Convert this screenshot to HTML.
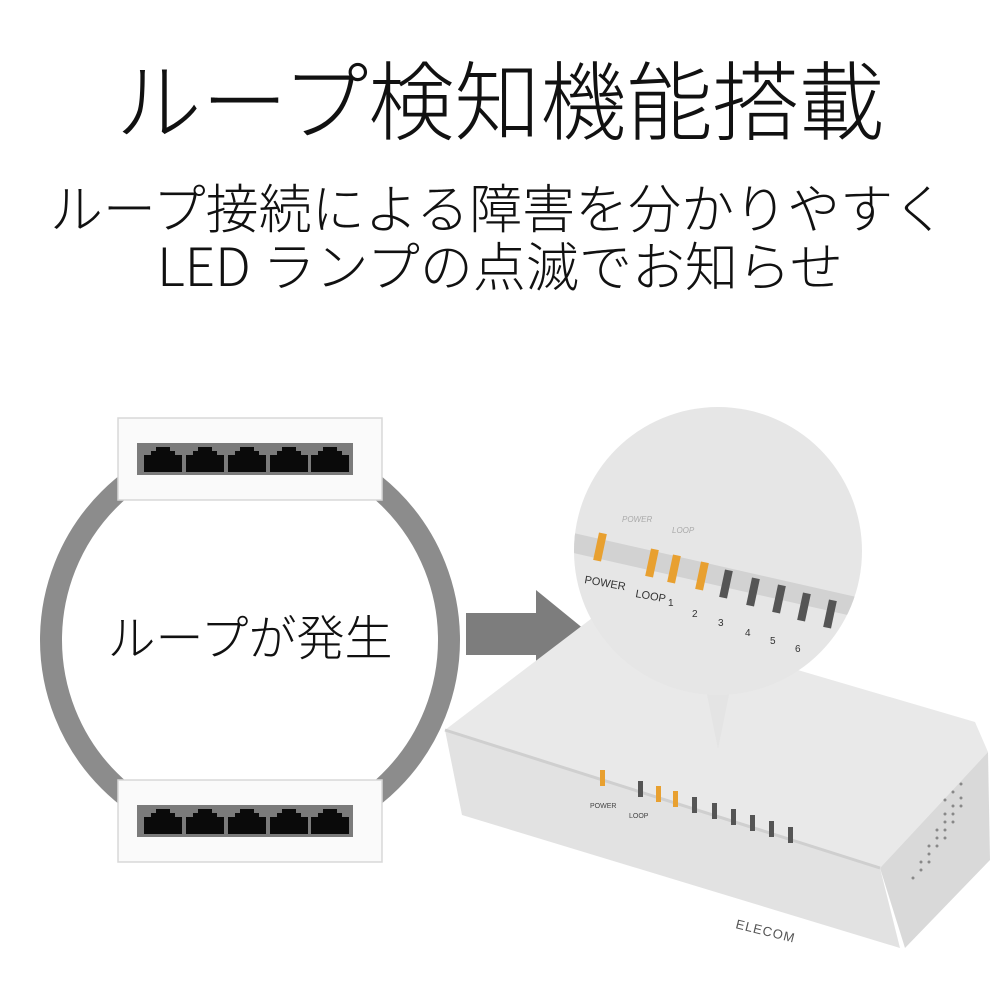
<!DOCTYPE html>
<html><head><meta charset="utf-8"><style>
html,body{margin:0;padding:0;background:#fff;}
svg{display:block;}
text{font-family:"Liberation Sans","Noto Sans CJK JP",sans-serif;}
</style></head><body>
<svg width="1000" height="1000" viewBox="0 0 1000 1000" xmlns="http://www.w3.org/2000/svg">
<rect width="1000" height="1000" fill="#fff"/>
<text x="500" y="133" font-size="86" font-weight="300" text-anchor="middle" fill="#111" style="font-family:'Noto Sans CJK JP',sans-serif">ループ検知機能搭載</text>
<text x="498" y="228" font-size="53" font-weight="300" text-anchor="middle" fill="#111" style="font-family:'Noto Sans CJK JP',sans-serif">ループ接続による障害を分かりやすく</text>
<text x="500" y="286" font-size="53" font-weight="300" text-anchor="middle" fill="#111" style="font-family:'Noto Sans CJK JP',sans-serif">LED ランプの点滅でお知らせ</text>

<!-- ring -->
<circle cx="250" cy="640" r="199" fill="none" stroke="#8c8c8c" stroke-width="22"/>
<text x="250" y="655" font-size="48" font-weight="300" text-anchor="middle" fill="#111" style="font-family:'Noto Sans CJK JP',sans-serif">ループが発生</text>

<!-- switch boxes -->
<g id="box">
<rect x="118" y="418" width="264" height="82" fill="#fafafa" stroke="#d8d8d8" stroke-width="1.5"/>
<rect x="137" y="443" width="216" height="32" fill="#7b7b7b"/>
<g fill="#0a0a0a">
<path d="M144 472 V455 H151 V451 H156 V447 H170 V451 H175 V455 H182 V472 Z"/>
<path d="M186 472 V455 H193 V451 H198 V447 H212 V451 H217 V455 H224 V472 Z"/>
<path d="M228 472 V455 H235 V451 H240 V447 H254 V451 H259 V455 H266 V472 Z"/>
<path d="M270 472 V455 H277 V451 H282 V447 H296 V451 H301 V455 H308 V472 Z"/>
<path d="M311 472 V455 H318 V451 H323 V447 H337 V451 H342 V455 H349 V472 Z"/>
</g>
</g>
<use href="#box" transform="translate(0,362)"/>

<!-- arrow -->
<polygon points="466,613 536,613 536,590 590,634 536,677 536,655 466,655" fill="#7d7d7d"/>

<!-- switch body -->
<polygon points="445,730 600,612 975,722 988,752 880,868" fill="#e9e9e9"/>
<polygon points="445,730 880,868 900,948 462,815" fill="#e2e2e2"/>
<polygon points="880,868 988,752 990,860 905,948" fill="#d9d9d9"/>
<polyline points="445,730 880,868" fill="none" stroke="#cfcfcf" stroke-width="3"/>
<g fill="#888">
<g transform="translate(945,800)">
<circle cx="0" cy="0" r="1.5"/><circle cx="8" cy="-8" r="1.5"/><circle cx="16" cy="-16" r="1.5"/>
<circle cx="0" cy="14" r="1.5"/><circle cx="8" cy="6" r="1.5"/><circle cx="16" cy="-2" r="1.5"/>
<circle cx="-8" cy="30" r="1.5"/><circle cx="0" cy="22" r="1.5"/><circle cx="8" cy="14" r="1.5"/><circle cx="16" cy="6" r="1.5"/>
<circle cx="-16" cy="46" r="1.5"/><circle cx="-8" cy="38" r="1.5"/><circle cx="0" cy="30" r="1.5"/><circle cx="8" cy="22" r="1.5"/>
<circle cx="-24" cy="62" r="1.5"/><circle cx="-16" cy="54" r="1.5"/><circle cx="-8" cy="46" r="1.5"/><circle cx="0" cy="38" r="1.5"/>
<circle cx="-32" cy="78" r="1.5"/><circle cx="-24" cy="70" r="1.5"/><circle cx="-16" cy="62" r="1.5"/>
</g>
</g>
<!-- front LEDs -->
<g>
<rect x="600" y="770" width="5" height="16" fill="#e8a030"/>
<rect x="638" y="781" width="5" height="16" fill="#555"/>
<rect x="656" y="786" width="5" height="16" fill="#e8a030"/>
<rect x="673" y="791" width="5" height="16" fill="#e8a030"/>
<rect x="692" y="797" width="5" height="16" fill="#555"/>
<rect x="712" y="803" width="5" height="16" fill="#555"/>
<rect x="731" y="809" width="5" height="16" fill="#555"/>
<rect x="750" y="815" width="5" height="16" fill="#555"/>
<rect x="769" y="821" width="5" height="16" fill="#555"/>
<rect x="788" y="827" width="5" height="16" fill="#555"/>
</g>
<text x="590" y="808" font-size="7" fill="#444">POWER</text>
<text x="629" y="818" font-size="7" fill="#444">LOOP</text>
<text x="735" y="928" font-size="13" fill="#555" transform="rotate(14 735 928)" letter-spacing="1">ELECOM</text>

<!-- magnifier -->
<polygon points="700,660 736,660 718,749" fill="#e4e4e4"/>
<circle cx="718" cy="551" r="144" fill="#e6e6e6"/>
<clipPath id="cc"><circle cx="718" cy="551" r="144"/></clipPath>
<g clip-path="url(#cc)">
<polygon points="560,530 870,600 870,620 560,550" fill="#d2d2d2"/>
<g>
<rect x="596" y="533" width="8" height="28" fill="#e8a030" transform="rotate(12 600 547)"/>
<rect x="648" y="549" width="8" height="28" fill="#e8a030" transform="rotate(12 652 563)"/>
<rect x="670" y="555" width="8" height="28" fill="#e8a030" transform="rotate(12 674 569)"/>
<rect x="698" y="562" width="8" height="28" fill="#e8a030" transform="rotate(12 702 576)"/>
<rect x="722" y="570" width="8" height="28" fill="#555" transform="rotate(12 726 584)"/>
<rect x="749" y="578" width="8" height="28" fill="#555" transform="rotate(12 753 592)"/>
<rect x="775" y="585" width="8" height="28" fill="#555" transform="rotate(12 779 599)"/>
<rect x="800" y="593" width="8" height="28" fill="#555" transform="rotate(12 804 607)"/>
<rect x="826" y="600" width="8" height="28" fill="#555" transform="rotate(12 830 614)"/>
</g>
<text x="584" y="583" font-size="11" fill="#333" transform="rotate(10 584 583)">POWER</text>
<text x="635" y="597" font-size="11" fill="#333" transform="rotate(10 635 597)">LOOP</text>
<text x="668" y="606" font-size="10" fill="#333">1</text>
<text x="692" y="617" font-size="10" fill="#333">2</text>
<text x="718" y="626" font-size="10" fill="#333">3</text>
<text x="745" y="636" font-size="10" fill="#333">4</text>
<text x="770" y="644" font-size="10" fill="#333">5</text>
<text x="795" y="652" font-size="10" fill="#333">6</text>
<text x="622" y="522" font-size="8" fill="#aaa" font-style="italic">POWER</text>
<text x="672" y="533" font-size="8" fill="#aaa" font-style="italic">LOOP</text>
</g>
</svg>
</body></html>
